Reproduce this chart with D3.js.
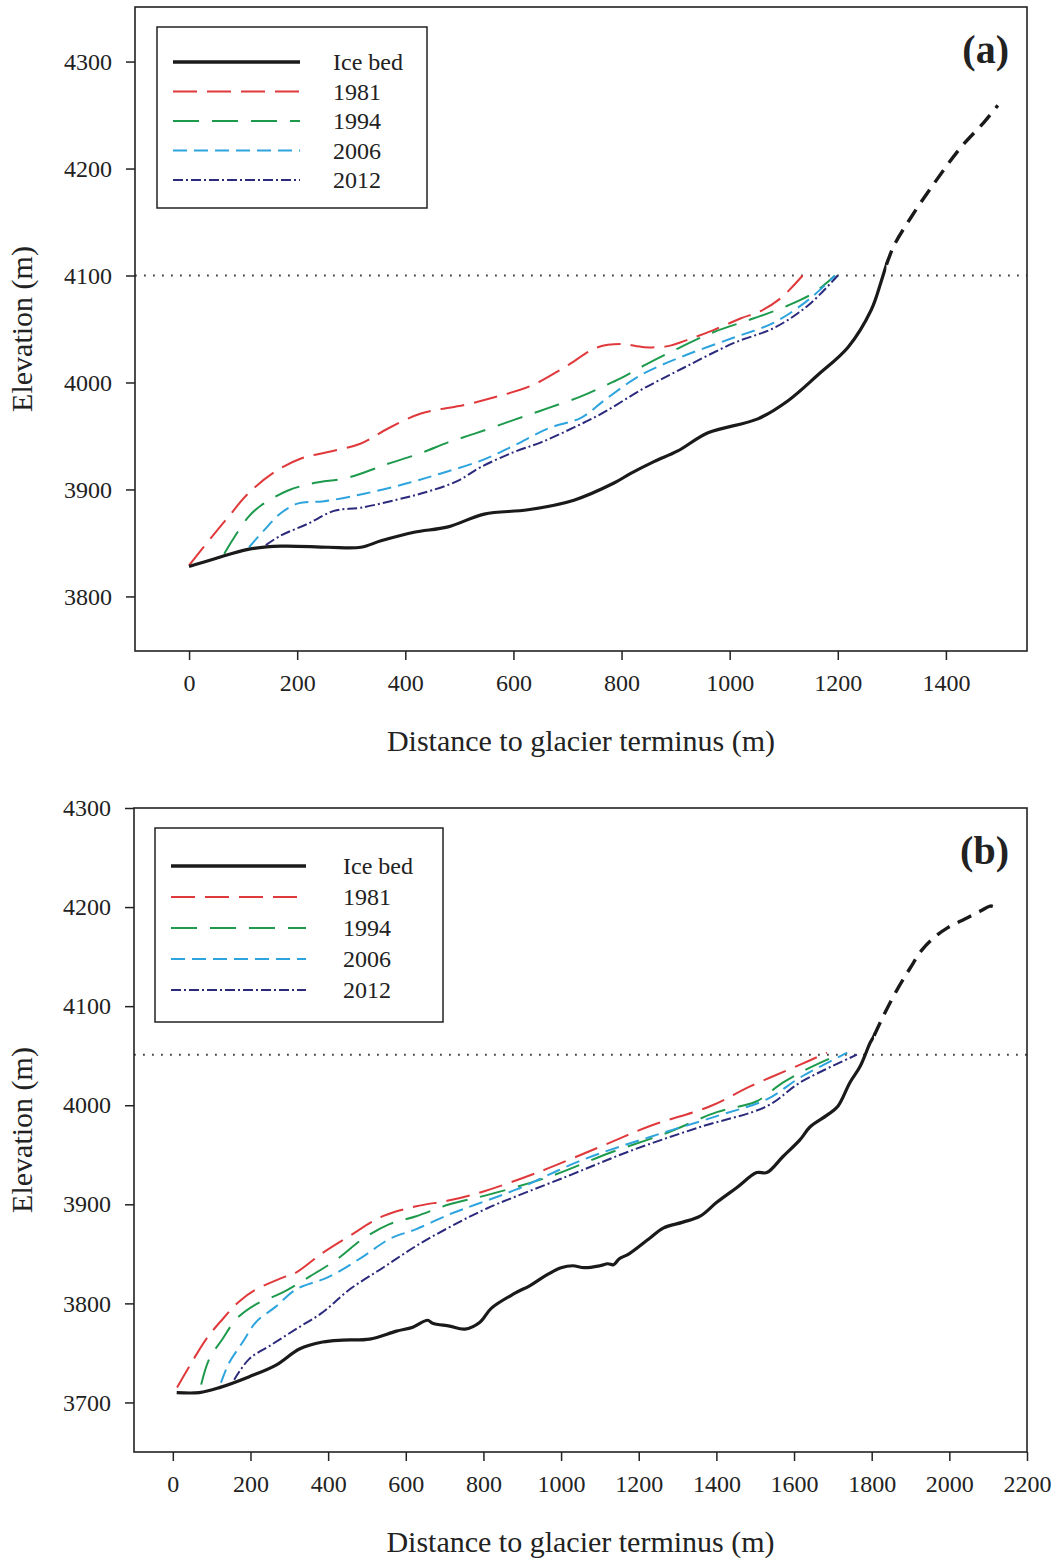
<!DOCTYPE html>
<html>
<head>
<meta charset="utf-8">
<title>glacier profiles</title>
<script src="https://cdn.jsdelivr.net/npm/d3@7"></script>
<style>
    body { margin: 0; background: #fff; font-family: "Liberation Serif", "Times New Roman", serif; }
    .tick text { font-size: 24px; font-family: "Liberation Serif", "Times New Roman", serif; fill: #222; }
    .tick line { stroke: #222; stroke-width: 1.5; }
    .frame { fill: none; stroke: #222; stroke-width: 1.6; }
    .axisTitle { font-size: 30px; fill: #222; }
    .legendLabel { font-size: 24px; fill: #222; }
    .panelLabel { font-size: 40px; font-weight: bold; fill: #222; }
</style>
</head>
<body>
<div id="chart"></div>
<script>
// distance (m), elevation (m)

// (a)
var bedA = [[0,3828],[46,3835],[109,3844],[170,3847],[257,3846],[318,3846],[355,3852],[416,3860],
    [479,3865],[546,3877],[627,3881],[712,3890],[786,3906],[817,3915],[860,3926],[904,3936],
    [960,3953],[1052,3966],[1108,3983],[1163,4007],[1219,4033],[1262,4068],[1280,4094],[1290,4110]];
var bedExtA = [[1290,4110],[1304,4128],[1335,4154],[1378,4186],[1428,4220],[1470,4243],[1496,4259]];
var y1981A = [[0,3829],[41,3855],[72,3874],[109,3896],[157,3916],[207,3929],[257,3935],[318,3943],
    [368,3957],[429,3971],[509,3979],[571,3987],[633,3997],[694,4014],[756,4033],[799,4036],
    [842,4033],[886,4034],[928,4041],[970,4049],[1021,4060],[1058,4067],[1095,4079],[1135,4100]];
var y1994A = [[65,3840],[109,3874],[133,3885],[183,3899],[231,3906],[294,3911],[368,3924],[429,3934],
    [479,3944],[527,3952],[601,3965],[664,3976],[725,3987],[765,3996],[799,4004],[842,4016],
    [897,4030],[970,4047],[1045,4060],[1108,4072],[1156,4084],[1195,4100]];
var y2006A = [[111,3846],[139,3862],[170,3878],[202,3887],[250,3889],[324,3896],[405,3906],[466,3915],
    [540,3927],[601,3941],[664,3957],[725,3967],[770,3984],[836,4007],[916,4025],[1008,4042],
    [1082,4056],[1145,4077],[1195,4100]];
var y2012A = [[142,3848],[170,3857],[220,3868],[268,3880],[318,3883],[405,3893],[448,3899],[497,3908],
    [540,3921],[601,3935],[651,3944],[712,3958],[767,3972],[836,3993],[916,4014],[1008,4037],
    [1082,4051],[1145,4072],[1200,4100]];

// (b)
var bedB = [[10,3710],[68,3710],[120,3715],[197,3726],[267,3738],[326,3754],[386,3761],[437,3763],
    [507,3764],[576,3772],[618,3776],[656,3783],[669,3780],[713,3777],[752,3774],[791,3781],
    [820,3795],[880,3810],[920,3818],[960,3828],[1000,3836],[1030,3838],[1060,3836],[1100,3838],
    [1120,3840],[1135,3839],[1150,3845],[1175,3850],[1229,3866],[1263,3876],[1314,3882],[1358,3888],
    [1401,3902],[1453,3917],[1504,3932],[1530,3932],[1571,3948],[1615,3965],[1641,3978],[1685,3990],
    [1713,3999],[1744,4023],[1770,4039],[1796,4063],[1806,4070]];
var bedExtB = [[1806,4070],[1830,4090],[1866,4117],[1900,4139],[1928,4156],[1960,4169],[1995,4179],
    [2040,4188],[2080,4196],[2105,4201],[2118,4200]];
var y1981B = [[11,3715],[42,3736],[86,3764],[128,3784],[171,3802],[214,3814],[283,3826],[317,3831],
    [386,3851],[455,3868],[541,3888],[627,3898],[713,3904],[800,3913],[945,3933],[1100,3958],
    [1229,3979],[1384,3999],[1487,4019],[1616,4041],[1685,4053]];
var y1994B = [[73,3718],[94,3744],[128,3764],[163,3784],[214,3799],[283,3811],[352,3827],[421,3844],
    [489,3865],[558,3880],[627,3888],[713,3900],[816,3910],[971,3928],[1126,3952],[1272,3972],
    [1401,3993],[1461,3999],[1504,4004],[1572,4023],[1641,4038],[1720,4052]];
var y2006B = [[124,3720],[145,3740],[180,3761],[214,3781],[266,3797],[317,3814],[403,3827],[489,3847],
    [558,3865],[627,3875],[713,3890],[782,3900],[885,3915],[1056,3945],[1229,3968],[1401,3989],
    [1530,4006],[1616,4028],[1737,4053]];
var y2012B = [[158,3723],[197,3744],[249,3757],[317,3774],[386,3791],[455,3814],[541,3836],[627,3858],
    [713,3877],[810,3896],[1014,3928],[1186,3955],[1358,3978],[1530,3999],[1616,4023],[1762,4051]];

var seriesNames = ['Ice bed', '1981', '1994', '2006', '2012'];
var xTicksA = d3.range(0, 1401, 200), yTicksA = d3.range(3800, 4301, 100);
var xTicksB = d3.range(0, 2201, 200), yTicksB = d3.range(3700, 4301, 100);
var refLineA = 4100, refLineB = 4051;

var styles = {
    'Ice bed': {color: '#1a1a1a', width: 3.2, dash: null},
    '1981': {color: '#e0393b', width: 2, dash: '24,10'},
    '1994': {color: '#1d9a4c', width: 2, dash: '26,13'},
    '2006': {color: '#2ea4de', width: 2, dash: '14,7'},
    '2012': {color: '#2c2a7c', width: 2, dash: '10,3,2,3'}
};

var W = 1057, H = 1560;
var svg = d3.select('#chart').append('svg').attr('width', W).attr('height', H);
var defs = svg.append('defs');

function drawPanel(p, id) {
    var x = d3.scaleLinear().domain(p.xDomain).range([p.left, p.right]);
    var y = d3.scaleLinear().domain(p.yDomain).range([p.bottom, p.top]);
    var g = svg.append('g');

    var line = d3.line()
        .x(function(d) { return x(d[0]); })
        .y(function(d) { return y(d[1]); })
        .curve(d3.curveCatmullRom.alpha(0.5));

    // reference level
    g.append('line')
        .attr('x1', p.left).attr('x2', p.right)
        .attr('y1', y(p.refLine)).attr('y2', y(p.refLine))
        .attr('stroke', '#444').attr('stroke-width', 2)
        .attr('stroke-dasharray', '1.8,7.2');

    // ice bed: one smooth curve, solid up to the last measured point, dashed beyond
    var bed = p.series[0], full = bed.concat(p.bedExt.slice(1));
    var splitX = x(bed[bed.length - 1][0]);
    defs.append('clipPath').attr('id', 'solid' + id).append('rect')
        .attr('x', 0).attr('y', 0).attr('width', splitX).attr('height', H);
    defs.append('clipPath').attr('id', 'dash' + id).append('rect')
        .attr('x', splitX).attr('y', 0).attr('width', W - splitX).attr('height', H);

    p.series.forEach(function(s, i) {
        if (i === 0) return;
        var st = styles[seriesNames[i]];
        g.append('path').datum(s)
            .attr('d', line)
            .attr('fill', 'none')
            .attr('stroke', st.color)
            .attr('stroke-width', st.width)
            .attr('stroke-dasharray', st.dash)
            .attr('stroke-linejoin', 'round');
    });

    g.append('path').datum(full)
        .attr('d', line)
        .attr('clip-path', 'url(#solid' + id + ')')
        .attr('fill', 'none')
        .attr('stroke', styles['Ice bed'].color)
        .attr('stroke-width', styles['Ice bed'].width)
        .attr('stroke-linejoin', 'round');
    g.append('path').datum(p.bedExt)
        .attr('d', line.curve(d3.curveCatmullRom.alpha(0.5)))
        .attr('fill', 'none')
        .attr('stroke', styles['Ice bed'].color)
        .attr('stroke-width', 3.4)
        .attr('stroke-dasharray', '15,9');

    g.append('rect').attr('class', 'frame')
        .attr('x', p.left).attr('y', p.top)
        .attr('width', p.right - p.left).attr('height', p.bottom - p.top);

    var fmt = d3.format('d');
    var ax = g.append('g').attr('transform', 'translate(0,' + p.bottom + ')')
        .call(d3.axisBottom(x).tickValues(p.xTicks).tickFormat(fmt)
            .tickSize(9).tickSizeOuter(0).tickPadding(14));
    var ay = g.append('g').attr('transform', 'translate(' + p.left + ',0)')
        .call(d3.axisLeft(y).tickValues(p.yTicks).tickFormat(fmt)
            .tickSize(9).tickSizeOuter(0).tickPadding(14));
    ax.select('.domain').remove();
    ay.select('.domain').remove();
    ax.attr('font-size', null).attr('font-family', null);
    ay.attr('font-size', null).attr('font-family', null);

    g.append('text').attr('class', 'axisTitle')
        .attr('x', (p.left + p.right) / 2).attr('y', p.bottom + 100)
        .attr('text-anchor', 'middle')
        .text('Distance to glacier terminus (m)');
    g.append('text').attr('class', 'axisTitle')
        .attr('transform', 'translate(32,' + (p.top + p.bottom) / 2 + ') rotate(-90)')
        .attr('text-anchor', 'middle')
        .text('Elevation (m)');

    g.append('text').attr('class', 'panelLabel')
        .attr('x', p.right - 18).attr('y', p.top + 56)
        .attr('text-anchor', 'end')
        .text(p.label);

    // legend
    var L = p.legend;
    g.append('rect')
        .attr('x', L.x).attr('y', L.y).attr('width', L.w).attr('height', L.h)
        .attr('fill', '#fff').attr('stroke', '#222').attr('stroke-width', 1.5);
    seriesNames.forEach(function(name, i) {
        var st = styles[name], ry = L.y + L.first + i * L.step;
        g.append('line')
            .attr('x1', L.x + 16).attr('x2', L.x + 16 + L.lineLen)
            .attr('y1', ry).attr('y2', ry)
            .attr('stroke', st.color).attr('stroke-width', name === 'Ice bed' ? 3.4 : 2.2)
            .attr('stroke-dasharray', st.dash);
        g.append('text').attr('class', 'legendLabel')
            .attr('x', L.x + L.textOff).attr('y', ry + 8)
            .text(name);
    });
}

drawPanel({
    left: 135, right: 1027, top: 7, bottom: 651,
    xDomain: [-100, 1550], yDomain: [3749, 4351],
    xTicks: xTicksA, yTicks: yTicksA, refLine: refLineA,
    series: [bedA, y1981A, y1994A, y2006A, y2012A], bedExt: bedExtA,
    label: '(a)',
    legend: {x: 157, y: 27, w: 270, h: 181, first: 35, step: 29.5, lineLen: 127, textOff: 176}
}, 'A');

drawPanel({
    left: 134, right: 1027, top: 808, bottom: 1452,
    xDomain: [-100, 2200], yDomain: [3650, 4300],
    xTicks: xTicksB, yTicks: yTicksB, refLine: refLineB,
    series: [bedB, y1981B, y1994B, y2006B, y2012B], bedExt: bedExtB,
    label: '(b)',
    legend: {x: 155, y: 828, w: 288, h: 194, first: 38, step: 31, lineLen: 135, textOff: 188}
}, 'B');
</script>
</body>
</html>
